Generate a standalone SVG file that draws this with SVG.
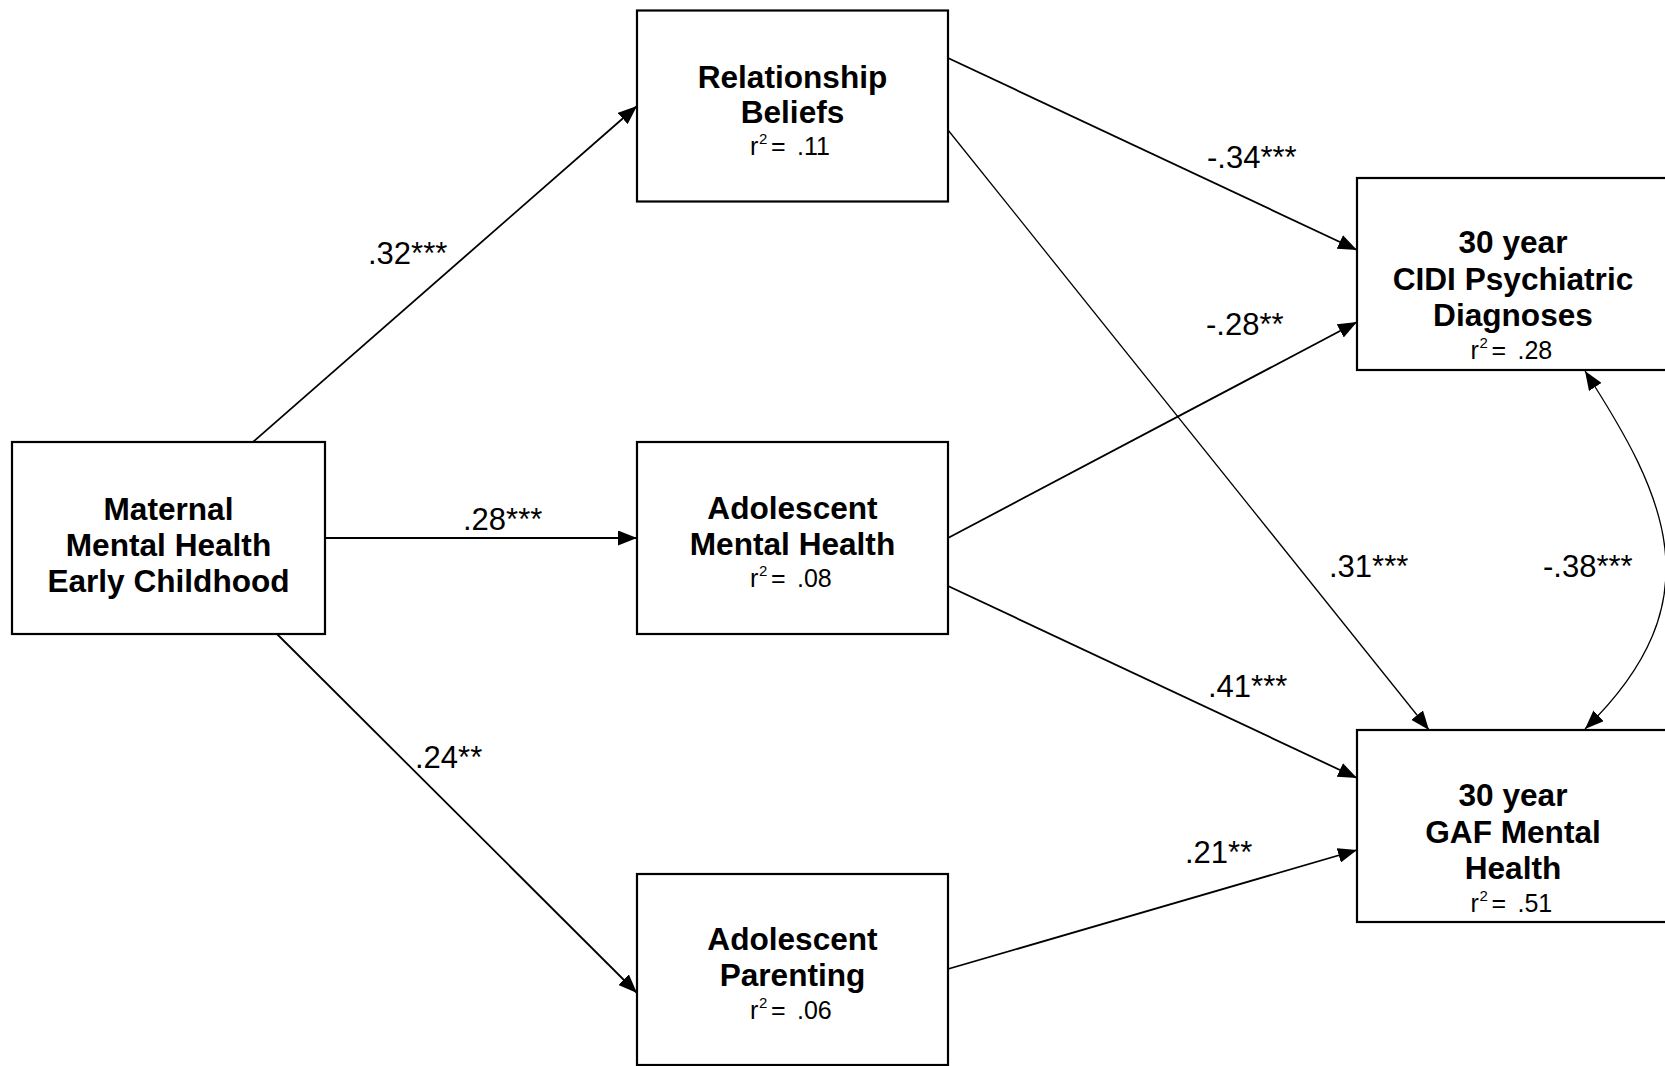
<svg xmlns="http://www.w3.org/2000/svg" width="1665" height="1066" viewBox="0 0 1665 1066">
<style>
.box{fill:#fff;stroke:#000;stroke-width:2.2}
.t{font-family:"Liberation Sans",Arial,sans-serif;font-weight:bold;font-size:31.6px;text-anchor:middle;fill:#000}
.r{font-family:"Liberation Sans",Arial,sans-serif;font-size:25px;fill:#000}
.sup{font-size:15px}
.lbl{font-family:"Liberation Sans",Arial,sans-serif;font-size:31px;fill:#000}
.c{fill:none;stroke:#000;stroke-width:1.8}
.thin{stroke-width:1.3}
</style>
<defs>
<marker id="ah" markerUnits="userSpaceOnUse" markerWidth="19" markerHeight="15" viewBox="0 0 19 15" refX="19" refY="7.5" orient="auto-start-reverse">
<path d="M0,0 L19,7.5 L0,15 z" fill="#000"/>
</marker>
</defs>
<rect width="1665" height="1066" fill="#fff"/>
<g id="connectors">
<line class="c" x1="253" y1="442" x2="637" y2="106" marker-end="url(#ah)"/>
<line class="c" x1="325" y1="538" x2="637" y2="538" marker-end="url(#ah)"/>
<line class="c" x1="277" y1="634" x2="637" y2="993" marker-end="url(#ah)"/>
<line class="c" x1="948" y1="58" x2="1357" y2="250" marker-end="url(#ah)"/>
<line class="c thin" x1="948" y1="130" x2="1429" y2="730" marker-end="url(#ah)"/>
<line class="c" x1="948" y1="538" x2="1357" y2="322" marker-end="url(#ah)"/>
<line class="c" x1="948" y1="586" x2="1357" y2="778" marker-end="url(#ah)"/>
<line class="c" x1="948" y1="969" x2="1357" y2="850" marker-end="url(#ah)"/>
<path class="c thin" d="M1585,371 C1665,495 1718,600 1585,729" marker-start="url(#ah)" marker-end="url(#ah)"/>
<text class="lbl" x="368" y="264">.32***</text>
<text class="lbl" x="463" y="530">.28***</text>
<text class="lbl" x="415" y="768">.24**</text>
<text class="lbl" x="1207" y="168">-.34***</text>
<text class="lbl" x="1206" y="335">-.28**</text>
<text class="lbl" x="1329" y="577">.31***</text>
<text class="lbl" x="1543" y="577">-.38***</text>
<text class="lbl" x="1208" y="697">.41***</text>
<text class="lbl" x="1185" y="863">.21**</text>
</g>
<g id="maternal">
<rect class="box" x="12" y="442" width="313" height="192"/>
<text class="t" x="168.5" y="520">Maternal</text>
<text class="t" x="168.5" y="556">Mental Health</text>
<text class="t" x="168.5" y="592">Early Childhood</text>
</g>
<g id="relationship">
<rect class="box" x="637" y="10.5" width="311" height="191"/>
<text class="t" x="792.5" y="88">Relationship</text>
<text class="t" x="792.5" y="123">Beliefs</text>
<text class="r" y="155"><tspan x="750">r</tspan><tspan class="sup" x="759" dy="-11">2</tspan><tspan x="771" dy="11">=</tspan><tspan x="797">.11</tspan></text>
</g>
<g id="adolescent-mental-health">
<rect class="box" x="637" y="442" width="311" height="192"/>
<text class="t" x="792.5" y="519">Adolescent</text>
<text class="t" x="792.5" y="555">Mental Health</text>
<text class="r" y="587"><tspan x="750">r</tspan><tspan class="sup" x="759" dy="-11">2</tspan><tspan x="771" dy="11">=</tspan><tspan x="797">.08</tspan></text>
</g>
<g id="adolescent-parenting">
<rect class="box" x="637" y="874" width="311" height="191"/>
<text class="t" x="792.5" y="950">Adolescent</text>
<text class="t" x="792.5" y="986">Parenting</text>
<text class="r" y="1019"><tspan x="750">r</tspan><tspan class="sup" x="759" dy="-11">2</tspan><tspan x="771" dy="11">=</tspan><tspan x="797">.06</tspan></text>
</g>
<g id="cidi">
<rect class="box" x="1357" y="178" width="312" height="192"/>
<text class="t" x="1513" y="253">30 year</text>
<text class="t" x="1513" y="290">CIDI Psychiatric</text>
<text class="t" x="1513" y="326">Diagnoses</text>
<text class="r" y="359"><tspan x="1470.5">r</tspan><tspan class="sup" x="1479.5" dy="-11">2</tspan><tspan x="1491.5" dy="11">=</tspan><tspan x="1517.5">.28</tspan></text>
</g>
<g id="gaf">
<rect class="box" x="1357" y="730" width="312" height="192"/>
<text class="t" x="1513" y="806">30 year</text>
<text class="t" x="1513" y="843">GAF Mental</text>
<text class="t" x="1513" y="879">Health</text>
<text class="r" y="911.5"><tspan x="1470.5">r</tspan><tspan class="sup" x="1479.5" dy="-11">2</tspan><tspan x="1491.5" dy="11">=</tspan><tspan x="1517.5">.51</tspan></text>
</g>
</svg>
